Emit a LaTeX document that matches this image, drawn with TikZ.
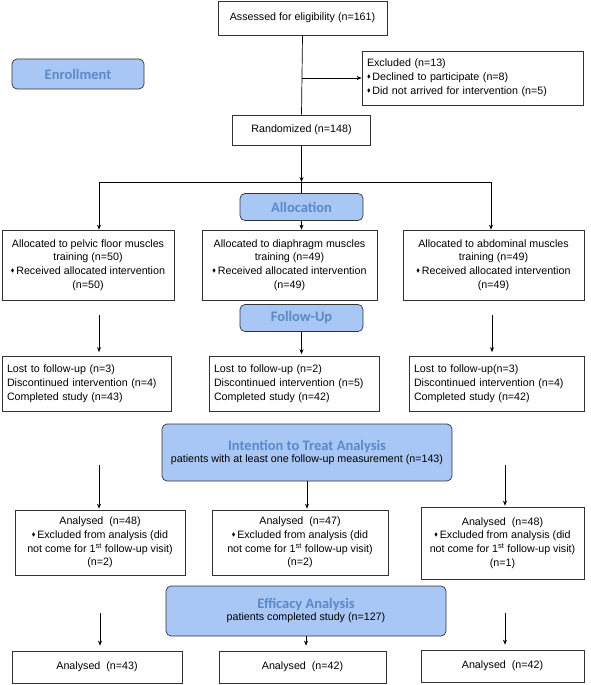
\documentclass[tikz,border=0pt]{standalone}
\usepackage{fontspec}
\usepackage{amssymb}
\setmainfont{Liberation Sans}
\newfontfamily\titlefont{Carlito}
\usetikzlibrary{arrows.meta,calc}
\definecolor{phasefill}{HTML}{A8C7F5}
\definecolor{phasetext}{HTML}{5B89C8}
\definecolor{boxline}{HTML}{333333}
\newcommand{\dmd}{\raisebox{0.35ex}{\scalebox{0.5}{$\blacklozenge$}}\,}
\newcommand{\ptitle}{\titlefont\bfseries\fontsize{14.5}{17}\selectfont\color{phasetext}}
\newcommand{\btext}{\fontsize{10.7}{13.8}\selectfont}
\tikzset{
  box/.style={draw=boxline, line width=0.7pt, rectangle, inner sep=2pt, font=\btext, align=center},
  phase/.style={draw=boxline, line width=0.7pt, fill=phasefill, rounded corners=5pt, align=center, inner sep=1pt},
  conn/.style={line width=0.7pt, draw=black},
  arr/.style={conn, -{Stealth[length=5pt,width=4pt]}}
}
\begin{document}
\begin{tikzpicture}[x=1pt,y=-1pt]
\useasboundingbox (0,0) rectangle (591,685);
% enrollment
\node[box, minimum width=169pt, minimum height=34pt] (assess) at (302.5,18) {Assessed for eligibility (n=161)};
\node[box, align=left, minimum width=221pt, minimum height=54pt, text width=211pt] (excl) at (472.5,78) {Excluded (n=13)\\\dmd Declined to participate (n=8)\\\dmd Did not arrived for intervention (n=5)};
\node[phase, minimum width=132pt, minimum height=30pt] (enroll) at (78,74) {\ptitle Enrollment};
\node[box, minimum width=138pt, minimum height=30pt] (rand) at (301.5,130) {Randomized (n=148)};
% allocation
\node[phase, minimum width=123pt, minimum height=27pt] (alloc) at (301.5,207) {\ptitle Allocation};
\node[box, minimum width=172pt, minimum height=70pt] (a1) at (88,265) {Allocated to pelvic floor muscles\\training (n=50)\\\dmd Received allocated intervention\\(n=50)};
\node[box, minimum width=175pt, minimum height=70pt] (a2) at (289.5,265) {Allocated to diaphragm muscles\\training (n=49)\\\dmd Received allocated intervention\\(n=49)};
\node[box, minimum width=181pt, minimum height=70pt] (a3) at (493.5,265) {Allocated to abdominal muscles\\training (n=49)\\\dmd Received allocated intervention\\(n=49)};
% follow-up
\node[phase, minimum width=123pt, minimum height=27pt] (fu) at (301.5,318) {\ptitle Follow-Up};
\node[box, align=left, text width=159pt, minimum width=169pt, minimum height=55pt] (f1) at (86.5,384) {Lost to follow-up (n=3)\\Discontinued intervention (n=4)\\Completed study (n=43)};
\node[box, align=left, text width=160pt, minimum width=170pt, minimum height=55pt] (f2) at (294,384) {Lost to follow-up (n=2)\\Discontinued intervention (n=5)\\Completed study (n=42)};
\node[box, align=left, text width=165pt, minimum width=175pt, minimum height=55pt] (f3) at (496.5,384) {Lost to follow-up(n=3)\\Discontinued intervention (n=4)\\Completed study (n=42)};
% ITT
\node[phase, minimum width=290pt, minimum height=57pt] (itt) at (307,452.5) {{\ptitle Intention to Treat Analysis}\\[0pt]{\btext patients with at least one follow-up measurement (n=143)}};
\node[box, minimum width=170pt, minimum height=65pt] (n1) at (100,542.5) {Analysed~ (n=48)\\\dmd Excluded from analysis (did\\not come for 1\textsuperscript{st} follow-up visit)\\(n=2)};
\node[box, minimum width=176pt, minimum height=65pt] (n2) at (300,542.5) {Analysed~ (n=47)\\\dmd Excluded from analysis (did\\not come for 1\textsuperscript{st} follow-up visit)\\(n=2)};
\node[box, minimum width=163pt, minimum height=72pt] (n3) at (502.5,543) {Analysed~ (n=48)\\\dmd Excluded from analysis (did\\not come for 1\textsuperscript{st} follow-up visit)\\(n=1)};
% efficacy
\node[phase, minimum width=280pt, minimum height=50pt] (eff) at (306,611) {{\ptitle Efficacy Analysis}\\[0pt]{\btext patients completed study (n=127)}};
\node[box, minimum width=170pt, minimum height=32pt] (e1) at (97,667) {Analysed~ (n=43)};
\node[box, minimum width=167pt, minimum height=32pt] (e2) at (302.5,667) {Analysed~ (n=42)};
\node[box, minimum width=163pt, minimum height=32pt] (e3) at (502.5,666) {Analysed~ (n=42)};
% connectors
\coordinate (br) at (301.5,78);
\coordinate (hub) at (301.5,182);
\coordinate (hl) at (99,182);
\coordinate (hr) at (491,182);
\draw[conn] (assess.south) -- (rand.north);
\draw[arr] (br) -- (excl.west |- br);
\draw[arr] (rand.south) -- (hub);
\draw[conn] (hl) -- (hr);
\draw[conn] (hub) -- (alloc.north);
\draw[arr] (hl) -- (hl |- a1.north);
\draw[arr] (hr) -- (hr |- a3.north);
\draw[arr] (alloc.south) -- (alloc.south |- a2.north);
\coordinate (fl) at (99,315);
\coordinate (fr) at (492,315);
\draw[arr] (fl) -- ($(fl |- f1.north)+(0,-4)$);
\draw[arr] (fu.south) -- ($(fu.south |- f2.north)+(0,-2)$);
\draw[arr] (fr) -- ($(fr |- f3.north)+(0,-4)$);
\coordinate (il) at (99,465);
\coordinate (ir) at (505,465);
\draw[arr] (il) -- ($(il |- n1.north)+(0,-1)$);
\draw[arr] (itt.south) -- ($(itt.south |- n2.north)+(0,-1)$);
\draw[arr] (ir) -- ($(ir |- n3.north)+(0,-1)$);
\coordinate (el) at (100,613);
\coordinate (er) at (505,613);
\draw[arr] (el) -- ($(el |- e1.north)+(0,-5)$);
\draw[arr] (eff.south) -- ($(eff.south |- e2.north)+(0,-5)$);
\draw[arr] (er) -- ($(er |- e3.north)+(0,-5)$);
\end{tikzpicture}
\end{document}
